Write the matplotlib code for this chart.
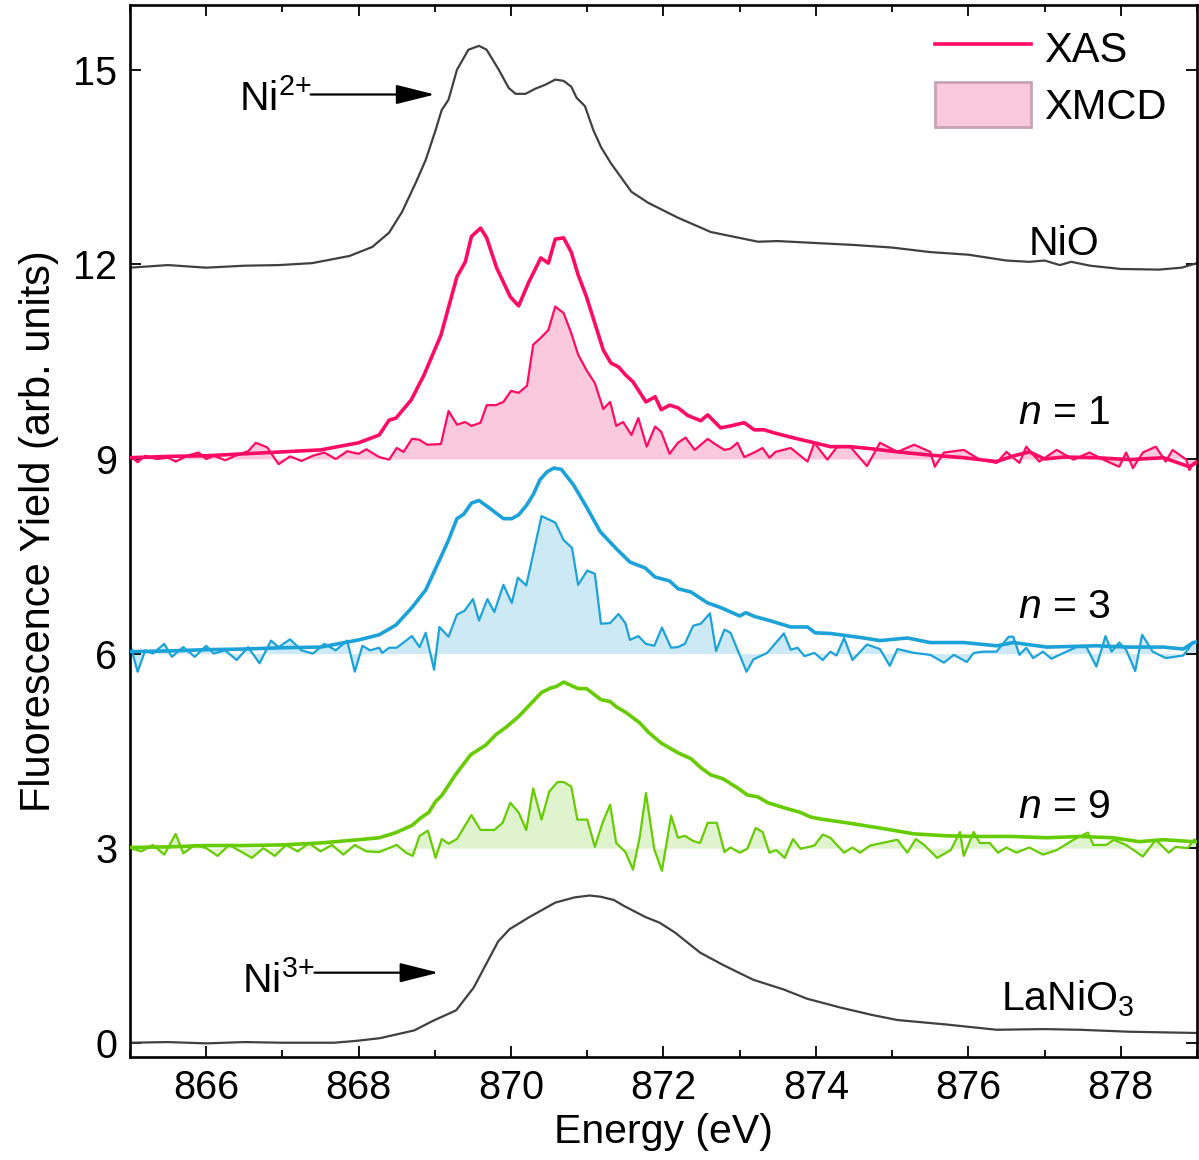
import matplotlib
matplotlib.use("Agg")
import matplotlib.pyplot as plt
from matplotlib.lines import Line2D
from matplotlib.patches import Patch
from matplotlib.ticker import MultipleLocator

plt.rcParams["font.family"] = ["Liberation Sans", "DejaVu Sans"]
plt.rcParams["mathtext.fontset"] = "custom"
plt.rcParams["mathtext.rm"] = "Liberation Sans"
plt.rcParams["mathtext.it"] = "Liberation Sans:italic"

# --- data (energy in eV, offset intensity) ---
nio_E = [865.0, 865.5, 866.0, 866.5, 866.96, 867.39, 867.88, 868.18, 868.40, 868.57,
         868.75, 868.88, 869.01, 869.09, 869.18, 869.29, 869.44, 869.58, 869.68, 869.84,
         869.97, 870.06, 870.19, 870.32, 870.45, 870.58, 870.69, 870.79, 870.86, 870.97,
         871.08, 871.18, 871.31, 871.58, 871.80, 872.19, 872.62, 873.24, 873.50, 874.0,
         874.5, 875.0, 875.5, 876.0, 876.5, 876.8, 877.0, 877.2, 877.35, 877.6,
         878.0, 878.5, 878.8, 879.0]
nio_Y = [11.95, 11.99, 11.95, 11.98, 11.99, 12.02, 12.13, 12.27, 12.49, 12.81,
         13.26, 13.61, 14.07, 14.38, 14.54, 15.00, 15.31, 15.37, 15.31, 15.00,
         14.72, 14.63, 14.63, 14.71, 14.77, 14.85, 14.83, 14.74, 14.57, 14.44,
         14.07, 13.81, 13.56, 13.12, 12.95, 12.72, 12.50, 12.35, 12.36, 12.33,
         12.30, 12.26, 12.19, 12.15, 12.06, 12.04, 12.06, 11.99, 12.04, 11.98,
         11.93, 11.92, 11.95, 12.02]

lno_E = [865.0, 865.5, 866.0, 866.5, 867.0, 867.23, 867.68, 867.98, 868.28, 868.73,
         868.98, 869.28, 869.51, 869.83, 869.98, 870.23, 870.58, 870.83, 871.03, 871.18,
         871.35, 871.48, 871.76, 871.95, 872.15, 872.48, 872.78, 873.18, 873.58, 873.88,
         874.33, 874.73, 875.07, 875.72, 876.37, 877.0, 877.46, 878.1, 879.0]
lno_Y = [0.0, 0.01, -0.01, 0.01, 0.0, 0.0, 0.0, 0.03, 0.07, 0.19,
         0.34, 0.50, 0.85, 1.56, 1.75, 1.93, 2.16, 2.24, 2.27, 2.25,
         2.20, 2.11, 1.94, 1.85, 1.70, 1.39, 1.20, 0.97, 0.82, 0.68,
         0.54, 0.43, 0.35, 0.28, 0.20, 0.21, 0.20, 0.17, 0.15]

n1_xas_E = [865.0, 865.5, 866.0, 866.5, 867.0, 867.5, 868.0, 868.27, 868.40, 868.49,
            868.69, 868.86, 869.08, 869.29, 869.40, 869.48, 869.60, 869.68, 869.81, 869.99,
            870.10, 870.23, 870.39, 870.49, 870.58, 870.69, 870.79, 870.88, 870.99, 871.21,
            871.31, 871.41, 871.50, 871.60, 871.77, 871.89, 871.97, 872.08, 872.19, 872.32,
            872.49, 872.58, 872.75, 872.88, 873.06, 873.19, 873.32, 873.46, 873.76, 873.98,
            874.19, 874.45, 874.71, 875.07, 875.50, 875.94, 876.37, 876.6, 876.8, 877.0,
            877.25, 877.68, 878.11, 878.56, 878.90, 879.0]
n1_xas_Y = [9.02, 9.04, 9.05, 9.08, 9.11, 9.14, 9.25, 9.37, 9.60, 9.63,
            9.91, 10.30, 10.91, 11.81, 12.04, 12.43, 12.56, 12.41, 11.95, 11.50,
            11.36, 11.72, 12.10, 12.02, 12.39, 12.41, 12.19, 11.84, 11.50, 10.68,
            10.48, 10.42, 10.30, 10.19, 9.88, 9.96, 9.76, 9.83, 9.79, 9.67,
            9.59, 9.68, 9.48, 9.51, 9.56, 9.45, 9.45, 9.40, 9.31, 9.25,
            9.19, 9.19, 9.16, 9.11, 9.06, 9.02, 8.96, 9.05, 9.11, 9.00,
            9.03, 9.02, 8.99, 9.02, 8.88, 8.95]

n1_xmcd_E = [865.0, 865.1, 865.2, 865.35, 865.5, 865.6, 865.75, 865.9, 866.0, 866.1,
             866.25, 866.4, 866.55, 866.65, 866.8, 866.95, 867.1, 867.25, 867.4, 867.55,
             867.7, 867.85, 868.0, 868.1, 868.27, 868.40, 868.50, 868.59, 868.70, 868.79,
             868.90, 869.08, 869.18, 869.29, 869.40, 869.48, 869.60, 869.68, 869.80, 869.90,
             870.00, 870.10, 870.21, 870.29, 870.40, 870.49, 870.58, 870.69, 870.79, 870.88,
             870.99, 871.10, 871.21, 871.30, 871.38, 871.47, 871.58, 871.67, 871.78, 871.89,
             871.97, 872.08, 872.19, 872.29, 872.41, 872.58, 872.69, 872.80, 872.88, 872.97,
             873.06, 873.19, 873.30, 873.39, 873.47, 873.67, 873.89, 873.98, 874.15, 874.28,
             874.45, 874.67, 874.84, 875.07, 875.29, 875.50, 875.56, 875.68, 875.94, 876.15,
             876.37, 876.50, 876.67, 876.76, 876.93, 877.16, 877.38, 877.59, 877.77, 877.98,
             878.07, 878.16, 878.29, 878.46, 878.59, 878.68, 878.86, 878.90, 878.96, 879.0]
n1_xmcd_Y = [9.05, 8.95, 9.05, 9.00, 9.02, 8.96, 9.05, 9.10, 9.00, 9.05,
             8.98, 9.06, 9.12, 9.25, 9.18, 8.92, 9.04, 8.97, 9.05, 9.10,
             9.00, 9.12, 9.08, 9.15, 9.03, 8.99, 9.17, 9.11, 9.31, 9.30,
             9.22, 9.23, 9.74, 9.53, 9.57, 9.51, 9.56, 9.83, 9.83, 9.88,
             10.05, 10.02, 10.13, 10.76, 10.88, 10.99, 11.35, 11.25, 10.94, 10.61,
             10.37, 10.17, 9.77, 9.88, 9.51, 9.57, 9.37, 9.63, 9.19, 9.50,
             9.42, 9.08, 9.25, 9.33, 9.14, 9.31, 9.22, 9.14, 9.16, 9.25,
             9.03, 9.10, 9.17, 9.02, 9.11, 9.17, 8.96, 9.25, 8.99, 9.19,
             9.19, 8.89, 9.25, 9.11, 9.22, 9.11, 8.88, 9.10, 9.14, 8.99,
             8.94, 9.11, 8.94, 9.19, 8.96, 9.14, 8.99, 9.10, 8.99, 8.88,
             9.10, 8.86, 9.10, 9.19, 8.96, 9.14, 8.99, 8.83, 8.94, 8.97]

n3_xas_E = [865.0, 865.5, 866.0, 866.5, 867.0, 867.5, 868.0, 868.27, 868.49, 868.70,
            868.88, 869.08, 869.18, 869.29, 869.38, 869.48, 869.58, 869.71, 869.90, 870.01,
            870.10, 870.20, 870.29, 870.38, 870.47, 870.56, 870.66, 870.82, 870.99, 871.17,
            871.37, 871.56, 871.76, 871.89, 872.08, 872.19, 872.36, 872.58, 872.75, 873.00,
            873.08, 873.20, 873.39, 873.67, 873.89, 873.99, 874.19, 874.63, 874.84, 875.20,
            875.50, 875.94, 876.37, 876.59, 877.03, 877.68, 878.11, 878.56, 878.82, 878.95,
            879.0]
n3_xas_Y = [6.03, 6.04, 6.06, 6.07, 6.09, 6.10, 6.21, 6.29, 6.44, 6.71,
            6.98, 7.49, 7.75, 8.08, 8.15, 8.32, 8.36, 8.25, 8.08, 8.08,
            8.14, 8.28, 8.45, 8.68, 8.80, 8.86, 8.84, 8.60, 8.26, 7.88,
            7.63, 7.41, 7.32, 7.18, 7.12, 7.00, 6.95, 6.78, 6.71, 6.58,
            6.63, 6.57, 6.51, 6.41, 6.41, 6.32, 6.31, 6.24, 6.20, 6.24,
            6.17, 6.17, 6.12, 6.17, 6.10, 6.12, 6.10, 6.10, 6.07, 6.17,
            6.18]

n3_xmcd_E = [865.0, 865.1, 865.2, 865.3, 865.45, 865.55, 865.7, 865.85, 866.0, 866.1,
             866.25, 866.4, 866.55, 866.7, 866.85, 866.95, 867.1, 867.25, 867.4, 867.55,
             867.7, 867.85, 867.95, 868.05, 868.15, 868.27, 868.31, 868.40, 868.50, 868.70,
             868.80, 868.88, 868.99, 869.06, 869.18, 869.29, 869.39, 869.50, 869.58, 869.69,
             869.78, 869.90, 870.01, 870.09, 870.20, 870.40, 870.58, 870.69, 870.80, 870.88,
             871.00, 871.10, 871.18, 871.30, 871.41, 871.50, 871.56, 871.67, 871.77, 871.88,
             871.98, 872.10, 872.19, 872.28, 872.39, 872.49, 872.61, 872.69, 872.80, 872.88,
             873.09, 873.18, 873.36, 873.58, 873.67, 873.76, 873.85, 873.98, 874.09, 874.19,
             874.27, 874.37, 874.48, 874.67, 874.84, 874.97, 875.07, 875.29, 875.50, 875.68,
             875.81, 875.98, 876.07, 876.20, 876.37, 876.53, 876.59, 876.67, 876.76, 876.85,
             876.98, 877.09, 877.25, 877.42, 877.55, 877.68, 877.80, 877.88, 877.98, 878.07,
             878.19, 878.28, 878.42, 878.59, 878.82, 878.95, 879.0]
n3_xmcd_Y = [6.15, 5.72, 6.05, 6.00, 6.15, 5.95, 6.10, 5.95, 6.12, 6.00,
             6.05, 5.90, 6.10, 5.85, 6.20, 6.10, 6.22, 6.05, 6.00, 6.15,
             6.05, 6.20, 5.72, 6.12, 6.05, 6.09, 6.01, 6.09, 6.09, 6.27,
             6.10, 6.32, 5.75, 6.41, 6.26, 6.60, 6.66, 6.84, 6.51, 6.84,
             6.64, 7.06, 6.78, 7.17, 7.05, 8.12, 8.02, 7.75, 7.63, 7.06,
             7.28, 7.23, 6.46, 6.47, 6.61, 6.47, 6.21, 6.27, 6.15, 6.12,
             6.40, 6.09, 6.10, 6.15, 6.43, 6.46, 6.62, 6.04, 6.37, 6.32,
             5.72, 5.91, 6.01, 6.31, 6.06, 6.09, 5.96, 6.01, 5.90, 6.03,
             5.97, 6.24, 5.90, 6.14, 6.07, 5.81, 6.07, 6.01, 5.98, 5.86,
             5.98, 5.87, 6.01, 6.03, 6.03, 6.26, 6.26, 5.98, 6.09, 5.93,
             6.03, 5.92, 6.01, 6.10, 6.10, 5.80, 6.27, 6.03, 6.17, 6.06,
             5.73, 6.29, 6.03, 5.93, 5.97, 6.17, 6.18]

n9_xas_E = [865.0, 865.5, 866.0, 866.5, 867.0, 867.5, 868.0, 868.27, 868.49, 868.70,
            868.82, 868.92, 869.01, 869.09, 869.27, 869.47, 869.67, 869.80, 869.93, 870.10,
            870.27, 870.40, 870.52, 870.59, 870.69, 870.88, 870.99, 871.18, 871.30, 871.38,
            871.51, 871.69, 871.80, 871.97, 872.19, 872.36, 872.49, 872.62, 872.78, 872.97,
            873.10, 873.24, 873.37, 873.59, 873.80, 873.93, 874.06, 874.41, 874.84, 875.29,
            875.72, 876.15, 876.59, 877.03, 877.46, 877.90, 878.24, 878.56, 878.95, 879.0]
n9_xas_Y = [3.01, 3.02, 3.04, 3.04, 3.05, 3.08, 3.13, 3.16, 3.24, 3.35,
            3.47, 3.55, 3.72, 3.81, 4.13, 4.44, 4.59, 4.75, 4.86, 5.03,
            5.24, 5.40, 5.47, 5.49, 5.56, 5.46, 5.46, 5.29, 5.26, 5.18,
            5.09, 4.93, 4.79, 4.62, 4.47, 4.38, 4.24, 4.13, 4.07, 3.93,
            3.82, 3.79, 3.70, 3.62, 3.55, 3.48, 3.45, 3.39, 3.31, 3.22,
            3.19, 3.18, 3.18, 3.16, 3.18, 3.16, 3.10, 3.13, 3.10, 3.10]

n9_xmcd_E = [865.0, 865.15, 865.3, 865.45, 865.6, 865.7, 865.85, 866.0, 866.15, 866.3,
             866.45, 866.6, 866.75, 866.9, 867.05, 867.2, 867.35, 867.5, 867.65, 867.8,
             867.95, 868.1, 868.27, 868.50, 868.62, 868.71, 868.80, 868.91, 869.01, 869.09,
             869.18, 869.29, 869.48, 869.60, 869.78, 869.89, 869.99, 870.10, 870.20, 870.29,
             870.40, 870.50, 870.61, 870.69, 870.79, 870.87, 871.00, 871.10, 871.20, 871.30,
             871.38, 871.50, 871.60, 871.69, 871.77, 871.88, 871.98, 872.10, 872.19, 872.28,
             872.39, 872.48, 872.58, 872.70, 872.80, 872.88, 873.00, 873.10, 873.21, 873.30,
             873.39, 873.48, 873.59, 873.70, 873.80, 873.98, 874.09, 874.19, 874.37, 874.48,
             874.58, 874.71, 874.87, 875.07, 875.20, 875.31, 875.42, 875.59, 875.77, 875.89,
             875.94, 876.07, 876.15, 876.28, 876.39, 876.50, 876.63, 876.80, 876.98, 877.16,
             877.38, 877.57, 877.64, 877.81, 877.91, 878.07, 878.29, 878.46, 878.63, 878.72,
             878.88, 878.96, 879.0]
n9_xmcd_Y = [3.00, 2.95, 3.05, 2.90, 3.22, 2.92, 3.05, 3.00, 2.88, 3.05,
             2.95, 2.85, 3.00, 2.88, 3.05, 2.95, 3.08, 2.95, 3.05, 2.90,
             3.05, 2.95, 2.94, 3.05, 2.93, 2.88, 3.19, 3.27, 2.85, 3.14,
             3.07, 3.14, 3.51, 3.28, 3.28, 3.39, 3.70, 3.55, 3.28, 3.92,
             3.44, 3.87, 4.02, 4.02, 3.95, 3.44, 3.44, 3.02, 3.39, 3.67,
             3.08, 2.94, 2.67, 3.18, 3.85, 2.98, 2.65, 3.50, 3.16, 3.19,
             3.11, 3.08, 3.39, 3.39, 2.94, 3.01, 2.93, 2.99, 3.31, 3.25,
             2.93, 2.97, 2.85, 3.14, 2.99, 3.04, 3.21, 3.16, 2.93, 3.01,
             2.93, 3.04, 3.08, 3.13, 2.93, 3.14, 3.05, 2.85, 2.97, 3.25,
             2.88, 3.25, 3.08, 3.08, 2.93, 3.01, 2.93, 3.01, 2.90, 2.97,
             3.13, 3.24, 3.05, 3.05, 3.13, 3.05, 2.87, 3.13, 2.93, 3.02,
             3.00, 3.13, 3.13]

gray = "#404040"
pink, pink_fill = "#ff0a64", "#fbc9de"
blue, blue_fill = "#1ba2d8", "#cde9f6"
green, green_fill = "#66cc00", "#dff3cf"

fig = plt.figure(figsize=(11.99, 11.6), dpi=100)
ax = fig.add_axes([0.1084, 0.0888, 0.8899, 0.9069])

ax.plot(nio_E, nio_Y, color=gray, lw=1.6)
ax.plot(lno_E, lno_Y, color=gray, lw=1.6)

series = [
    (n1_xas_E, n1_xas_Y, n1_xmcd_E, n1_xmcd_Y, 9, pink, pink_fill),
    (n3_xas_E, n3_xas_Y, n3_xmcd_E, n3_xmcd_Y, 6, blue, blue_fill),
    (n9_xas_E, n9_xas_Y, n9_xmcd_E, n9_xmcd_Y, 3, green, green_fill),
]
for xe, xy, me, my, base, c, fc in series:
    ax.fill_between(me, my, base, color=fc, lw=0, zorder=1)
    ax.plot(me, my, color=c, lw=1.6, zorder=2)
    ax.plot(xe, xy, color=c, lw=2.6, zorder=3)

ax.set_xlim(865, 879)
ax.set_ylim(-0.22, 16.0)
ax.xaxis.set_major_locator(MultipleLocator(2))
ax.xaxis.set_minor_locator(MultipleLocator(1))
ax.yaxis.set_major_locator(MultipleLocator(3))
ax.tick_params(which="both", direction="in", top=True, right=True, width=1.3)
ax.tick_params(which="major", length=8, labelsize=28.5, pad=9)
ax.tick_params(which="minor", length=5)
for s in ax.spines.values():
    s.set_linewidth(1.9)

ax.set_xlabel("Energy (eV)", fontsize=29.5, labelpad=4)
ax.set_ylabel("Fluorescence Yield (arb. units)", fontsize=30, labelpad=10)

tk = dict(fontsize=29.5, ha="center", va="center")
ax.text(877.26, 12.32, "NiO", **tk)
ax.text(877.26, 9.71, "$n$ = 1", **tk)
ax.text(877.26, 6.72, "$n$ = 3", **tk)
ax.text(877.26, 3.64, "$n$ = 9", **tk)
ax.text(877.3, 0.68, "LaNiO$_3$", **tk)

arrow = dict(arrowstyle="-|>,head_length=1.2,head_width=0.3", mutation_scale=20,
             lw=1.6, color="k", shrinkA=0, shrinkB=0)
ax.text(866.9, 14.55, "Ni$^{2{+}}$", **tk)
ax.annotate("", xy=(869.0, 14.62), xytext=(867.37, 14.62), arrowprops=arrow)
ax.text(866.95, 0.95, "Ni$^{3{+}}$", **tk)
ax.annotate("", xy=(869.05, 1.08), xytext=(867.42, 1.08), arrowprops=arrow)

handles = [Line2D([], [], color=pink, lw=2.6),
           Patch(facecolor=pink_fill, edgecolor="#c9a3b3", lw=2)]
ax.legend(handles, ["XAS", "XMCD"], loc="upper right", bbox_to_anchor=(0.991, 1.0),
          frameon=False, fontsize=30,
          handlelength=2.3, handleheight=1.3, handletextpad=0.32, labelspacing=0.25,
          borderaxespad=0.2, borderpad=0.3)

fig.savefig("out.png", dpi=100)
